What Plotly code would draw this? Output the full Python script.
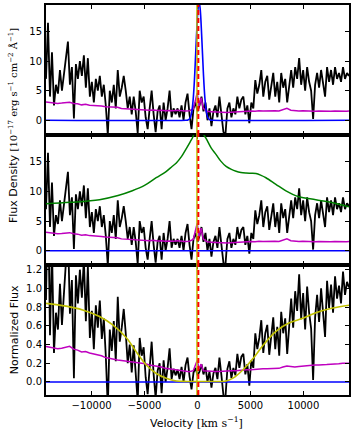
import numpy as np
import plotly.graph_objects as go

# ---- data ----
V_MIN, V_MAX = -14300, 14300

# observed flux density [1e-17 erg/s/cm2/A], evenly sampled over the velocity window
flux = [7, 16.5, 4, 11.5, 2.5, 6, 4.5, 8.5, 5, 7.5, 10, 13.3, 6, 9, 0.3, 9.5, 7, 10, 7.5, 11,
        5.5, 10.5, 4, 6.5, 3, 7, 5, 7.5, 4, 6, 2.5, -2.5, 5, 3, 6, 2, 8.5, 4, 5.5, 7.5,
        5, 2, 4, 1, 4, 1.5, -2.2, 5, 3, 4, 0.5, -1.5, 2, 5, 1, -2, 1.5, 2.5, -1.5, 3,
        0, 2, 5, 0.5, 2, 1, 2, 0.5, 2.5, 0, 3, 4.5, 1, -1.5, 2, 3, 1.5, 2.5, 4, 1.5,
        3, 0, 2, -1, 1.5, 2.5, 0.5, 4, 1, -2, -2.5, 2, 3, 0.5, 2, 1, 4, 2, 3.5, 4,
        1, 2.5, -0.5, 3, 2, 6.8, 4.5, 6, 8.5, 4, 6.5, 7.5, 3.5, 6, 8, 4, 6.5, 3, 8, 5.5,
        7, 3, 6, 8.5, 5.5, 9, 7, 10.5, 6, 8.5, 5, 9, 6.5, 5, 0.2, 6, 8, 5.5, 8.5, 6,
        4, 9, 6.5, 8.5, 6, 9, 7, 8, 6.5, 9, 7, 8, 7.5]

# continuum-normalised flux, same sampling
norm_flux = [0.875, 2.06, 0.5, 1.43, 0.31, 0.74, 0.56, 1.05, 0.61, 0.92, 1.22, 1.62, 0.73, 1.09, 0.04,
             1.14, 0.84, 1.2, 0.9, 1.31, 0.65, 1.24, 0.47, 0.76, 0.35, 0.82, 0.58, 0.87, 0.46, 0.68,
             0.28, -0.28, 0.56, 0.33, 0.65, 0.22, 0.91, 0.43, 0.58, 0.78, 0.52, 0.2, 0.4, 0.1, 0.39,
             0.15, -0.21, 0.47, 0.28, 0.37, 0.05, -0.13, 0.18, 0.43, 0.08, -0.17, 0.12, 0.2, -0.12, 0.23,
             0, 0.15, 0.36, 0.03, 0.14, 0.07, 0.13, 0.03, 0.16, 0, 0.18, 0.26, 0.06, -0.08, 0.1,
             0.15, 0.07, 0.11, 0.19, 0.08, 0.16, 0, 0.11, -0.06, 0.09, 0.15, 0.03, 0.26, 0.07, -0.14,
             -0.17, 0.14, 0.22, 0.04, 0.15, 0.07, 0.3, 0.15, 0.27, 0.3, 0.08, 0.19, -0.04, 0.23, 0.15,
             0.52, 0.35, 0.47, 0.66, 0.31, 0.52, 0.61, 0.29, 0.51, 0.69, 0.35, 0.59, 0.28, 0.75, 0.52,
             0.68, 0.3, 0.61, 0.89, 0.58, 0.97, 0.76, 1.15, 0.67, 0.95, 0.56, 1.02, 0.74, 0.57, 0.02,
             0.69, 0.93, 0.64, 1.0, 0.71, 0.48, 1.08, 0.79, 1.04, 0.74, 1.13, 0.89, 1.03, 0.84, 1.18,
             0.93, 1.07, 1.01]

# error spectrum
err_v = [-14300, -13950, -13570, -13200, -12820, -12440, -12070, -11690, -11320, -10940,
         -10560, -10190, -9810, -9430, -9060, -8680, -8310, -7930, -7550, -7180,
         -6800, -6420, -6050, -5670, -5300, -4920, -4540, -4170, -3790, -3410,
         -3040, -2660, -2290, -1910, -1530, -1160, -780, -400, -220, -30,
         160, 350, 540, 910, 1290, 1660, 2040, 2420, 2790, 3170,
         3550, 3920, 4300, 4680, 5050, 5430, 5800, 6180, 6560, 6930,
         7310, 7690, 8060, 8440, 8810, 9190, 9570, 9940, 10320, 10700,
         11070, 11450, 11830, 12200, 12580, 12960, 13330, 13710, 14080, 14300]
err = [3.1, 3.0, 2.9, 2.85, 2.9, 3.0, 3.05, 2.85, 2.8, 2.6,
       2.7, 2.55, 2.5, 2.55, 2.4, 2.3, 2.25, 2.15, 2.2, 2.0,
       1.95, 2.0, 1.85, 1.8, 1.75, 1.8, 1.7, 1.75, 1.65, 1.7,
       1.6, 1.65, 1.6, 1.7, 1.6, 1.55, 1.6, 1.9, 3.2, 4.6,
       2.4, 3.8, 2.0, 1.5, 1.45, 1.4, 1.35, 1.3, 1.3, 1.35,
       1.4, 1.45, 1.45, 1.5, 1.55, 1.5, 1.6, 1.55, 1.6, 1.55,
       1.6, 1.55, 1.8, 2.0, 1.7, 1.6, 1.55, 1.6, 1.55, 1.6,
       1.5, 1.55, 1.5, 1.45, 1.5, 1.55, 1.5, 1.55, 1.5, 1.55]
norm_err = [0.38, 0.37, 0.36, 0.355, 0.36, 0.37, 0.38, 0.35, 0.34, 0.32,
            0.325, 0.31, 0.30, 0.295, 0.28, 0.26, 0.25, 0.24, 0.235, 0.23,
            0.225, 0.22, 0.215, 0.21, 0.2, 0.195, 0.18, 0.175, 0.165, 0.16,
            0.145, 0.14, 0.13, 0.125, 0.125, 0.12, 0.11, 0.12, 0.18, 0.23,
            0.14, 0.19, 0.12, 0.115, 0.11, 0.11, 0.11, 0.115, 0.12, 0.12,
            0.12, 0.125, 0.125, 0.13, 0.13, 0.135, 0.135, 0.14, 0.14, 0.14,
            0.145, 0.145, 0.16, 0.17, 0.165, 0.16, 0.165, 0.17, 0.175, 0.18,
            0.18, 0.18, 0.18, 0.185, 0.19, 0.19, 0.195, 0.2, 0.2, 0.2]

# emission-line fit (top panel)
line_v = [V_MIN, -1100, -900, -700, -550, -400, -250, -100, 50, 150, 250, 400, 550, 700, 850, 1000, 1200, 1400, V_MAX]
line_f = [0, 0, 0.04, 0.36, 1.3, 3.7, 8.2, 14.1, 18.9, 20, 18.9, 14.1, 8.2, 3.7, 1.3, 0.36, 0.04, 0, 0]

# continuum model (middle panel)
cont_v = [-14300, -12000, -9250, -7500, -6150, -5000, -3900, -3000, -2400, -2000, -1500, -1060, -700, -430,
          -250, -100, 0, 100, 250, 500, 820, 1300, 1760, 2200, 2700, 3200, 3640, 4100, 4580, 5050,
          5520, 6000, 6460, 7400, 8350, 9570, 11170, 12770, 14300]
cont_f = [7.9, 8.15, 8.6, 9.3, 10.1, 11.0, 12.3, 13.3, 14.2, 14.8, 15.9, 17.2, 18.3, 19.2,
          20.2, 21.5, 22.5, 21.5, 20.6, 19.8, 18.9, 17.3, 16.2, 15.1, 14.2, 13.7, 13.4, 13.2, 13.1, 13.05,
          13.0, 12.7, 12.3, 11.2, 10.1, 9.1, 8.6, 8.1, 7.4]

# absorption model (bottom panel)
abs_v = [-14300, -12400, -10850, -9250, -8000, -6700, -5770, -4830, -3890, -2950, -2000, -1000, 0,
         1000, 2700, 3350, 4300, 5240, 6180, 7400, 8620, 9940, 11170, 12770, 14300]
abs_f = [0.84, 0.81, 0.77, 0.70, 0.61, 0.47, 0.32, 0.18, 0.09, 0.04, 0.01, 0.005, 0.005,
         0.005, 0.01, 0.04, 0.13, 0.25, 0.39, 0.54, 0.63, 0.68, 0.74, 0.79, 0.82]

zero_v = [V_MIN, V_MAX]
zero_f = [0, 0]

v_systemic = 80     # red dashed marker
v_line = -50        # yellow marker

x_ticks = [-10000, -5000, 0, 5000, 10000]
x_ticktext = ["−10000", "−5000", "0", "5000", "10000"]

vel = np.linspace(V_MIN, V_MAX, len(flux))

BLACK = "#000000"
MAG = "#bf00bf"
BLUE = "#0000ff"
GREEN = "#008000"
YEL = "#bfbf00"
RED = "#ff0000"

fig = go.Figure()


def add(x, y, color, ax, width=1.5, shape="linear"):
    fig.add_trace(go.Scatter(x=x, y=y, mode="lines", xaxis="x" + ax, yaxis="y" + ax,
                             line=dict(color=color, width=width, shape=shape),
                             showlegend=False, hoverinfo="skip"))


# top panel
add(vel, flux, BLACK, "", 1.8)
add(err_v, err, MAG, "", 1.5)
add(line_v, line_f, BLUE, "", 1.6, "spline")
# middle panel
add(vel, flux, BLACK, "2", 1.8)
add(err_v, err, MAG, "2", 1.5)
add(zero_v, zero_f, BLUE, "2", 1.5)
add(cont_v, cont_f, GREEN, "2", 1.5, "spline")
# bottom panel
add(vel, norm_flux, BLACK, "3", 1.8)
add(err_v, norm_err, MAG, "3", 1.5)
add(zero_v, zero_f, BLUE, "3", 1.5)
add(abs_v, abs_f, YEL, "3", 1.6, "spline")

shapes = []
for ax in ["", "2", "3"]:
    shapes.append(dict(type="line", xref="x" + ax, yref=("y" + ax) + " domain",
                       x0=v_line, x1=v_line, y0=0, y1=1, line=dict(color=YEL, width=1.5)))
    shapes.append(dict(type="line", xref="x" + ax, yref=("y" + ax) + " domain",
                       x0=v_systemic, x1=v_systemic, y0=0, y1=1,
                       line=dict(color=RED, width=2, dash="5px,3px")))

axis_common = dict(showline=True, linecolor="black", linewidth=2, mirror="ticks",
                   ticks="inside", ticklen=4, tickwidth=1, tickcolor="black",
                   showgrid=False, zeroline=False,
                   tickfont=dict(family="DejaVu Sans", size=10, color="black"))
x_common = dict(axis_common, range=[V_MIN, V_MAX], tickvals=x_ticks, ticktext=x_ticktext)

fig.update_layout(
    width=354, height=435, autosize=False,
    margin=dict(l=46, r=4, t=3, b=40),
    plot_bgcolor="white", paper_bgcolor="white",
    xaxis=dict(x_common, anchor="y", showticklabels=False),
    xaxis2=dict(x_common, anchor="y2", showticklabels=False),
    xaxis3=dict(x_common, anchor="y3"),
    yaxis=dict(axis_common, range=[-2.5, 19.5], domain=[2 / 3, 1], anchor="x", dtick=5),
    yaxis2=dict(axis_common, range=[-2.4, 19.5], domain=[1 / 3, 2 / 3], anchor="x2", dtick=5),
    yaxis3=dict(axis_common, range=[-0.14, 1.25], domain=[0, 1 / 3], anchor="x3",
                dtick=0.2, tickformat=".1f"),
    shapes=shapes,
    annotations=[
        dict(text='Flux Density <span style="font-family:DejaVu Serif;font-size:10px">[10<sup>−17</sup> erg s<sup>−1</sup>'
                  ' cm<sup>−2</sup> Å<sup>−1</sup>]</span>',
             xref="paper", yref="paper", x=-0.105, y=0.69, textangle=-90, showarrow=False,
             xanchor="center", yanchor="middle", font=dict(family="DejaVu Sans", size=11, color="black")),
        dict(text="Normalized Flux", xref="paper", yref="paper", x=-0.105, y=1 / 6, textangle=-90,
             showarrow=False, xanchor="center", yanchor="middle",
             font=dict(family="DejaVu Sans", size=11, color="black")),
        dict(text='Velocity <span style="font-family:DejaVu Serif">[km s<sup>−1</sup>]</span>',
             xref="paper", yref="paper", x=0.497, y=-0.07, showarrow=False,
             xanchor="center", yanchor="middle", font=dict(family="DejaVu Sans", size=11, color="black")),
    ],
)

# the page body has a default 8px margin; drop it so the figure sits at the window corner
fig.write_html("out.html", config={"displayModeBar": False},
               post_script="document.body.style.margin='0';")
